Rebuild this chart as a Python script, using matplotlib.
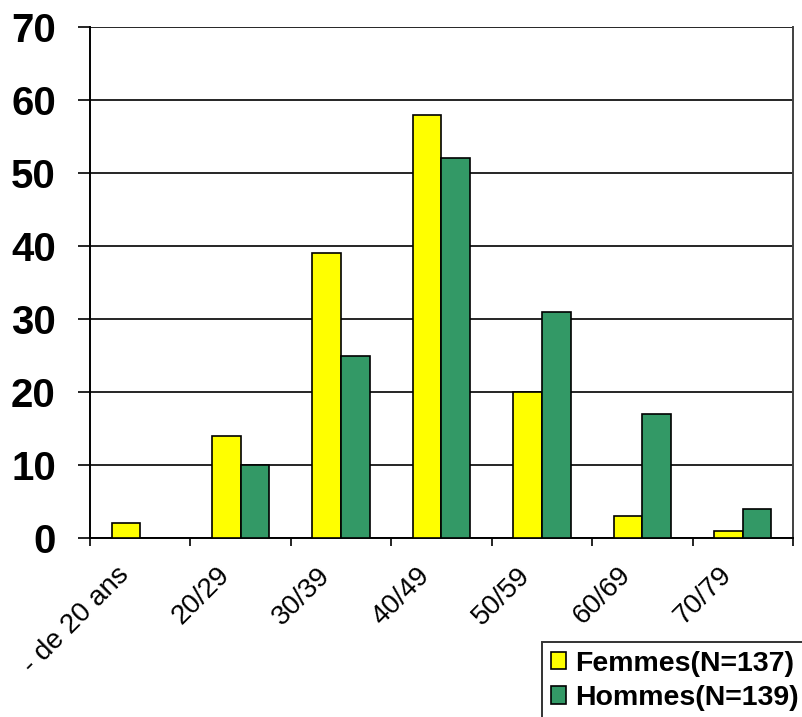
import numpy as np
import matplotlib
matplotlib.use("Agg")
import matplotlib.pyplot as plt

categories = ["- de 20 ans", "20/29", "30/39", "40/49", "50/59", "60/69", "70/79"]
femmes = [2, 14, 39, 58, 20, 3, 1]
hommes = [0, 10, 25, 52, 31, 17, 4]
labels = ["Femmes(N=137)", "Hommes(N=139)"]

YELLOW = "#ffff00"
GREEN = "#339966"

plt.rcParams["font.family"] = ["Liberation Sans", "DejaVu Sans"]

fig = plt.figure(figsize=(8.03, 7.17), dpi=100)
ax = fig.add_axes([90 / 803, 1 - 538 / 717, (793 - 90) / 803, (538 - 27) / 717])

x = np.arange(len(categories))
w = 0.285
ax.bar(x - w / 2, femmes, w, color=YELLOW, edgecolor="black", lw=1.2,
       label=labels[0], zorder=3)
ax.bar(x + w / 2, hommes, w, color=GREEN, edgecolor="black", lw=1.2,
       label=labels[1], zorder=3)

ax.set_xlim(-0.5, len(categories) - 0.5)
ax.set_ylim(0, 70)
ax.set_yticks(range(0, 71, 10))
ax.yaxis.grid(True, color="black", lw=1.2, zorder=0)
ax.set_axisbelow(True)

ax.set_xticks(np.arange(len(categories) + 1) - 0.5)
ax.set_xticklabels([])
ax.tick_params(axis="x", direction="out", length=6, width=1.2)
ax.tick_params(axis="y", direction="out", length=8.6, width=1.2, pad=16)
for t in ax.get_yticklabels():
    t.set_fontsize(29)
    t.set_fontweight("bold")

# rotated category labels, anchored under each group
for xi, name in zip(x, categories):
    ax.annotate(name, xy=(xi, 0), xycoords=("data", "axes fraction"),
                xytext=(-11, -24), textcoords="offset points",
                rotation=45, ha="right", va="center", rotation_mode="anchor",
                fontsize=20)

for side in ["left", "bottom"]:
    ax.spines[side].set_linewidth(1.4)
ax.spines["top"].set_visible(False)
ax.spines["right"].set_color("#404040")
ax.spines["right"].set_linewidth(1.4)

leg = fig.legend(loc="upper left", bbox_to_anchor=(542 / 803, 1 - 642 / 717),
                 frameon=True, fancybox=False, edgecolor="black",
                 prop={"weight": "bold", "size": 20.5}, handlelength=0.55,
                 handleheight=0.55, handletextpad=0.3, borderpad=0.3,
                 labelspacing=0.3, borderaxespad=0)
leg.get_frame().set_linewidth(1.4)

fig.savefig("out.png", dpi=100)
